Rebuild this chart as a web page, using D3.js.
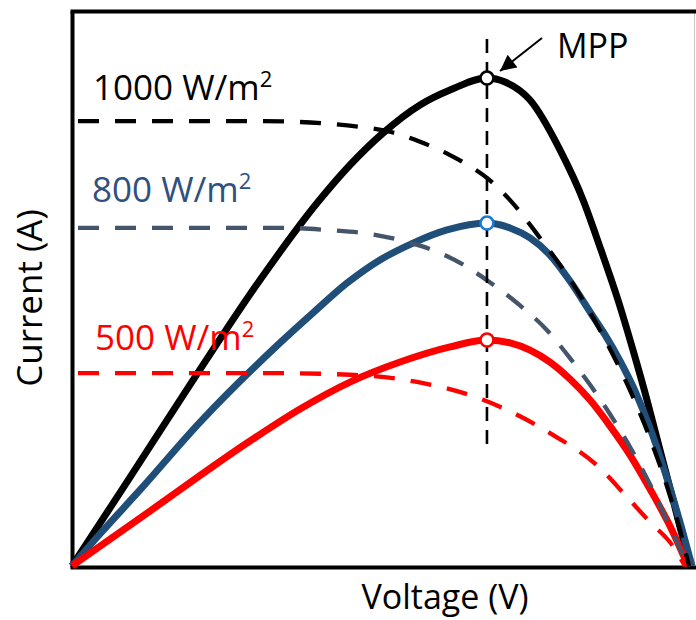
<!DOCTYPE html>
<html>
<head>
<meta charset="utf-8">
<script src="https://cdn.jsdelivr.net/npm/d3@7"></script>
<style>
  body { margin: 0; background: #fff; }
  svg text { font-family: "Open Sans", sans-serif; }
</style>
</head>
<body>
<svg id="chart" width="696" height="620"></svg>
<script>
// irradiance levels
const levels = ["1000", "800", "500"];

// P-V curves (voltage V, power W)
const power1000 = [[0,0],[3.53,37.8],[7.56,81.4],[12.05,128.6],[15.71,163.2],[17.82,180.3],[19.94,194.7],[22.31,207.3],[24.23,214.0],[26.6,219.4],[27.76,217.6],[29.36,209.5],[31.28,187.1],[32.76,164.6],[33.91,142.1],[35.0,119.6],[35.96,97.1],[36.86,74.6],[37.69,52.2],[38.53,29.7],[39.62,0]];
const power800 = [[0,0],[1.79,14.4],[4.36,34.2],[8.21,64.7],[13.33,100.3],[15.45,113.8],[17.63,127.2],[19.74,137.6],[21.86,145.2],[24.04,151.1],[26.6,154.2],[28.08,152.0],[29.36,147.5],[30.64,139.8],[31.92,128.1],[33.21,114.2],[34.17,103.9],[35.13,92.2],[36.09,78.7],[37.05,62.1],[38.01,42.3],[38.97,19.8],[39.74,0]];
const power500 = [[0,0],[5.0,24.7],[11.41,56.2],[14.62,70.6],[17.82,82.7],[21.03,91.7],[24.23,98.5],[26.6,101.6],[28.08,100.3],[29.36,97.1],[30.64,91.7],[31.92,84.1],[33.21,74.6],[34.49,62.9],[35.77,49.9],[37.05,34.6],[38.33,18.0],[39.49,0]];

// I-V curves (voltage V, current A)
const current1000 = [[0,8.0],[12.24,8.0],[18.46,7.9],[20.38,7.81],[22.31,7.63],[24.23,7.39],[25.51,7.19],[26.6,6.98],[28.08,6.58],[30.0,5.9],[32.12,5.07],[33.85,4.24],[35.96,3.04],[37.05,2.3],[38.21,1.37],[38.97,0.65],[39.55,0]];
const current800 = [[0,6.08],[13.78,6.08],[16.54,6.04],[18.65,5.99],[21.47,5.83],[23.59,5.63],[25.32,5.38],[26.6,5.14],[28.53,4.73],[30.45,4.24],[31.92,3.74],[33.21,3.26],[34.49,2.73],[35.77,2.14],[37.05,1.47],[38.33,0.7],[39.49,0]];
const current500 = [[0,3.47],[12.5,3.47],[17.82,3.44],[22.12,3.31],[26.35,2.99],[30.64,2.39],[33.85,1.76],[35.45,1.28],[37.05,0.79],[38.46,0.38],[39.29,0]];

// maximum power points
const mppVoltage = 26.6;
const mppPower = [219.4, 154.2, 101.6];
const mppGuide = [54, 237]; // extent of the vertical guide, in W

const svg = d3.select("#chart");

const x = d3.scaleLinear().domain([0, 40]).range([72, 696]);
const yI = d3.scaleLinear().domain([0, 10]).range([566, 10]);
const yP = d3.scaleLinear().domain([0, 250]).range([566, 10]);

const solidColor = { "1000": "#000000", "800": "#1f4e79", "500": "#ff0000" };
const dashColor = { "1000": "#000000", "800": "#44546a", "500": "#ff0000" };
const markColor = { "1000": "#000000", "800": "#1b7bd4", "500": "#ff0000" };
const labelColor = { "1000": "#000000", "800": "#2f5080", "500": "#ff0000" };

// frame
svg.append("line")
  .attr("x1", 694.5).attr("x2", 694.5)
  .attr("y1", 11).attr("y2", 567)
  .attr("stroke", "#c8c8c8").attr("stroke-width", 1);

const axisG = svg.append("g");
axisG.append("g").attr("transform", "translate(0,567)")
  .call(d3.axisBottom(d3.scaleLinear().range([70, 696])).tickValues([]).tickSizeOuter(0));
axisG.append("g").attr("transform", "translate(0,11)")
  .call(d3.axisTop(d3.scaleLinear().range([70, 696])).tickValues([]).tickSizeOuter(0));
axisG.append("g").attr("transform", "translate(72,0)")
  .call(d3.axisLeft(d3.scaleLinear().range([11, 567])).tickValues([]).tickSizeOuter(0));
axisG.selectAll(".domain").attr("stroke", "#000").attr("stroke-width", 4);

const powerLine = d3.line().x(d => x(d[0])).y(d => yP(d[1])).curve(d3.curveMonotoneX);
const currentLine = d3.line().x(d => x(d[0])).y(d => yI(d[1])).curve(d3.curveMonotoneX);

const powers = [power1000, power800, power500];
const currents = [current1000, current800, current500];

levels.forEach((lv, i) => {
  svg.append("path")
    .attr("d", powerLine(powers[i]))
    .attr("fill", "none")
    .attr("stroke", solidColor[lv])
    .attr("stroke-width", 7)
    .attr("stroke-linejoin", "round");
});

levels.forEach((lv, i) => {
  svg.append("path")
    .attr("d", currentLine(currents[i]))
    .attr("fill", "none")
    .attr("stroke", dashColor[lv])
    .attr("stroke-width", 4.3)
    .attr("stroke-dasharray", "21,16")
    .attr("stroke-dashoffset", -6);
});

// vertical MPP guide
svg.append("line")
  .attr("x1", x(mppVoltage)).attr("x2", x(mppVoltage))
  .attr("y1", yP(mppGuide[1])).attr("y2", yP(mppGuide[0]))
  .attr("stroke", "#000").attr("stroke-width", 2.6)
  .attr("stroke-dasharray", "14,9");

svg.selectAll("circle.mpp")
  .data(levels)
  .enter()
  .append("circle")
  .attr("class", "mpp")
  .attr("cx", x(mppVoltage))
  .attr("cy", (d, i) => yP(mppPower[i]))
  .attr("r", 6.5)
  .attr("fill", "#fff")
  .attr("stroke", d => markColor[d])
  .attr("stroke-width", 2.6);

// MPP arrow
svg.append("defs").append("marker")
  .attr("id", "head")
  .attr("viewBox", "0 0 10 10")
  .attr("refX", 10).attr("refY", 5)
  .attr("markerWidth", 9).attr("markerHeight", 8)
  .attr("markerUnits", "strokeWidth")
  .attr("orient", "auto")
  .append("path").attr("d", "M0,0L10,5L0,10Z").attr("fill", "#000");

svg.append("line")
  .attr("x1", 542).attr("y1", 38)
  .attr("x2", 500).attr("y2", 71)
  .attr("stroke", "#000").attr("stroke-width", 2)
  .attr("marker-end", "url(#head)");

svg.append("text")
  .attr("x", 557).attr("y", 58)
  .attr("font-size", 34)
  .attr("fill", "#000")
  .text("MPP");

// irradiance labels
const labelPos = [[93, 100], [92, 202], [95, 350]];
levels.forEach((lv, i) => {
  const t = svg.append("text")
    .attr("x", labelPos[i][0]).attr("y", labelPos[i][1])
    .attr("font-size", 35)
    .attr("fill", labelColor[lv]);
  t.append("tspan").text(lv + " W/m");
  t.append("tspan").attr("font-size", 22).attr("dy", -13).text("2");
});

// axis titles
svg.append("text")
  .attr("x", 445).attr("y", 609)
  .attr("text-anchor", "middle")
  .attr("font-size", 34)
  .attr("fill", "#000")
  .text("Voltage (V)");

svg.append("text")
  .attr("transform", "translate(42,298) rotate(-90)")
  .attr("text-anchor", "middle")
  .attr("font-size", 35)
  .attr("fill", "#000")
  .text("Current (A)");
</script>
</body>
</html>
